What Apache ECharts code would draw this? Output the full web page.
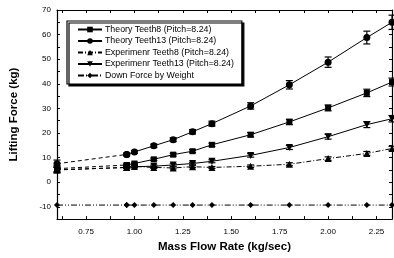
<!DOCTYPE html>
<html>
<head>
<meta charset="utf-8">
<script src="https://cdn.jsdelivr.net/npm/echarts@6/dist/echarts.min.js"></script>
<style>
  html, body { margin: 0; padding: 0; background: #fff; }
  #chart { width: 394px; height: 258px; }
</style>
</head>
<body>
<div id="chart"></div>
<script>
// mass flow rate (kg/sec)
var flowRate = [0.6, 0.96, 1.0, 1.1, 1.2, 1.3, 1.4, 1.6, 1.8, 2.0, 2.2, 2.33]
// lifting force (kg)
var theoryT8 = [5.5, 7.0, 7.6, 9.3, 11.2, 12.6, 15.2, 19.3, 24.5, 30.2, 36.3, 40.7]
var theoryT13 = [7.5, 11.3, 12.3, 14.8, 17.3, 20.5, 23.8, 31.0, 39.6, 48.8, 58.8, 65.0]
var expT8 = [5.0, 6.0, 6.4, 6.0, 5.8, 6.3, 6.0, 6.5, 7.3, 9.6, 11.7, 13.7]
var expT13 = [5.0, 6.0, 6.3, 6.5, 7.0, 7.6, 8.5, 10.9, 14.1, 18.5, 23.4, 25.8]
var downForce = [-9.3, -9.3, -9.3, -9.3, -9.3, -9.3, -9.3, -9.3, -9.3, -9.3, -9.3, -9.3]
// error bar half widths
var errT8 = [1.2, 0.5, 0.5, 0.5, 0.6, 0.6, 0.7, 0.9, 1.1, 1.2, 1.5, 1.6]
var errT13 = [1.5, 0.6, 0.6, 0.7, 0.8, 0.9, 1.0, 1.3, 1.7, 2.1, 2.6, 2.9]
var errE8 = [1.0, 0.4, 0.4, 0.4, 0.4, 0.4, 0.4, 0.5, 0.6, 0.7, 0.8, 0.9]
var errE13 = [1.2, 0.5, 0.5, 0.5, 0.5, 0.5, 0.6, 0.7, 0.8, 1.0, 1.2, 1.3]
// tick labels
var xLabels = [0.75, 1.0, 1.25, 1.5, 1.75, 2.0, 2.25]
var xTicks = [0.625, 0.75, 0.875, 1.0, 1.125, 1.25, 1.375, 1.5, 1.625, 1.75, 1.875, 2.0, 2.125, 2.25]
var yLabels = [-10, 0, 10, 20, 30, 40, 50, 60, 70]
var yTicks = [-15, -10, -5, 0, 5, 10, 15, 20, 25, 30, 35, 40, 45, 50, 55, 60, 65, 70]

var names = [
  'Theory Teeth8 (Pitch=8.24)',
  'Theory Teeth13 (Pitch=8.24)',
  'Experimenr Teeth8 (Pitch=8.24)',
  'Experimenr Teeth13 (Pitch=8.24)',
  'Down Force by Weight'
]

function pairs(ys, from, to) {
  var out = []
  for (var i = from; i < to; i++) out.push([flowRate[i], ys[i]])
  return out
}

function errData(ys, errs) {
  var out = []
  for (var i = 0; i < ys.length; i++) out.push([flowRate[i], ys[i] - errs[i], ys[i] + errs[i]])
  return out
}

var mycharts = echarts.init(document.getElementById('chart'))

var defs = [
  { ys: theoryT8, symbol: 'rect', size: 6, type: 'solid', err: errT8 },
  { ys: theoryT13, symbol: 'circle', size: 7, type: 'solid', err: errT13 },
  { ys: expT8, symbol: 'triangle', size: 7, type: [5, 2, 1, 2], err: errE8 },
  { ys: expT13, symbol: 'path://M0,0 L10,0 L5,9 Z', size: 7, type: 'solid', err: errE13 },
  { ys: downForce, symbol: 'diamond', size: 6, type: [6, 2, 1, 2, 1, 2], err: null }
]

var series = []
defs.forEach(function (d, k) {
  // main part
  series.push({
    name: names[k],
    type: 'line',
    data: pairs(d.ys, 1, flowRate.length),
    symbol: d.symbol,
    symbolSize: d.size,
    clip: false,
    itemStyle: { color: '#000' },
    lineStyle: { color: '#000', width: 1, type: d.type },
    z: 3
  })
  // dashed low-flow part
  series.push({
    name: 'low' + k,
    type: 'line',
    data: pairs(d.ys, 0, 2),
    symbol: d.symbol,
    symbolSize: d.size,
    clip: false,
    itemStyle: { color: '#000' },
    lineStyle: { color: '#000', width: 1, type: k === 4 ? d.type : [4, 3] },
    z: 3
  })
  if (d.err) {
    series.push({
      name: 'err' + k,
      type: 'custom',
      data: errData(d.ys, d.err),
      clip: false,
      z: 2,
      renderItem: function (params, api) {
        var lo = api.coord([api.value(0), api.value(1)])
        var hi = api.coord([api.value(0), api.value(2)])
        var w = 3.5
        var st = { stroke: '#000', lineWidth: 1.2 }
        return {
          type: 'group',
          children: [
            { type: 'line', shape: { x1: lo[0], y1: lo[1], x2: hi[0], y2: hi[1] }, style: st },
            { type: 'line', shape: { x1: lo[0] - w, y1: lo[1], x2: lo[0] + w, y2: lo[1] }, style: st },
            { type: 'line', shape: { x1: hi[0] - w, y1: hi[1], x2: hi[0] + w, y2: hi[1] }, style: st }
          ]
        }
      }
    })
  }
})

var axisFont = { color: '#000', fontSize: 8, fontFamily: 'Liberation Sans' }
var nameFont = { color: '#000', fontSize: 11.5, fontWeight: 'bold', fontFamily: 'Liberation Sans' }

var option = {
  animation: false,
  grid: { left: 57, right: 2, top: 10, bottom: 38 },
  legend: {
    data: names,
    orient: 'vertical',
    left: 67,
    top: 21,
    itemWidth: 24,
    itemHeight: 7,
    itemGap: 2.5,
    padding: [4, 8, 4, 10],
    backgroundColor: '#fff',
    borderColor: '#000',
    borderWidth: 1.2,
    shadowColor: '#000',
    shadowOffsetX: 2,
    shadowOffsetY: 2,
    shadowBlur: 0,
    textStyle: { color: '#000', fontSize: 8.8, fontFamily: 'Liberation Sans', padding: [0, 0, 0, -2] }
  },
  xAxis: [
    {
      type: 'value',
      min: 0.6,
      max: 2.33,
      name: 'Mass Flow Rate (kg/sec)',
      nameLocation: 'middle',
      nameGap: 17,
      nameTextStyle: nameFont,
      axisLine: { onZero: false, lineStyle: { color: '#000', width: 1.2 } },
      axisTick: { inside: true, length: 3, customValues: xTicks, lineStyle: { color: '#000' } },
      axisLabel: Object.assign({ customValues: xLabels, margin: 9, formatter: function (v) { return v.toFixed(2) } }, axisFont),
      splitLine: { show: false }
    },
    {
      type: 'value',
      min: 0.6,
      max: 2.33,
      position: 'top',
      axisLine: { onZero: false, lineStyle: { color: '#000', width: 1.2 } },
      axisTick: { inside: true, length: 3, customValues: xTicks, lineStyle: { color: '#000' } },
      axisLabel: { show: false },
      splitLine: { show: false }
    }
  ],
  yAxis: [
    {
      type: 'value',
      min: -15,
      max: 70,
      name: 'Lifting Force (kg)',
      nameLocation: 'middle',
      nameGap: 37,
      nameTextStyle: nameFont,
      axisLine: { show: true, onZero: false, lineStyle: { color: '#000', width: 1.2 } },
      axisTick: { show: true, inside: true, length: 3, customValues: yTicks, lineStyle: { color: '#000' } },
      axisLabel: Object.assign({ customValues: yLabels, margin: 6 }, axisFont),
      splitLine: { show: false }
    },
    {
      type: 'value',
      min: -15,
      max: 70,
      position: 'right',
      axisLine: { show: true, onZero: false, lineStyle: { color: '#000', width: 1.2 } },
      axisTick: { show: true, inside: true, length: 3, customValues: yTicks, lineStyle: { color: '#000' } },
      axisLabel: { show: false },
      splitLine: { show: false }
    }
  ],
  series: series
}
mycharts.setOption(option)
</script>
</body>
</html>
